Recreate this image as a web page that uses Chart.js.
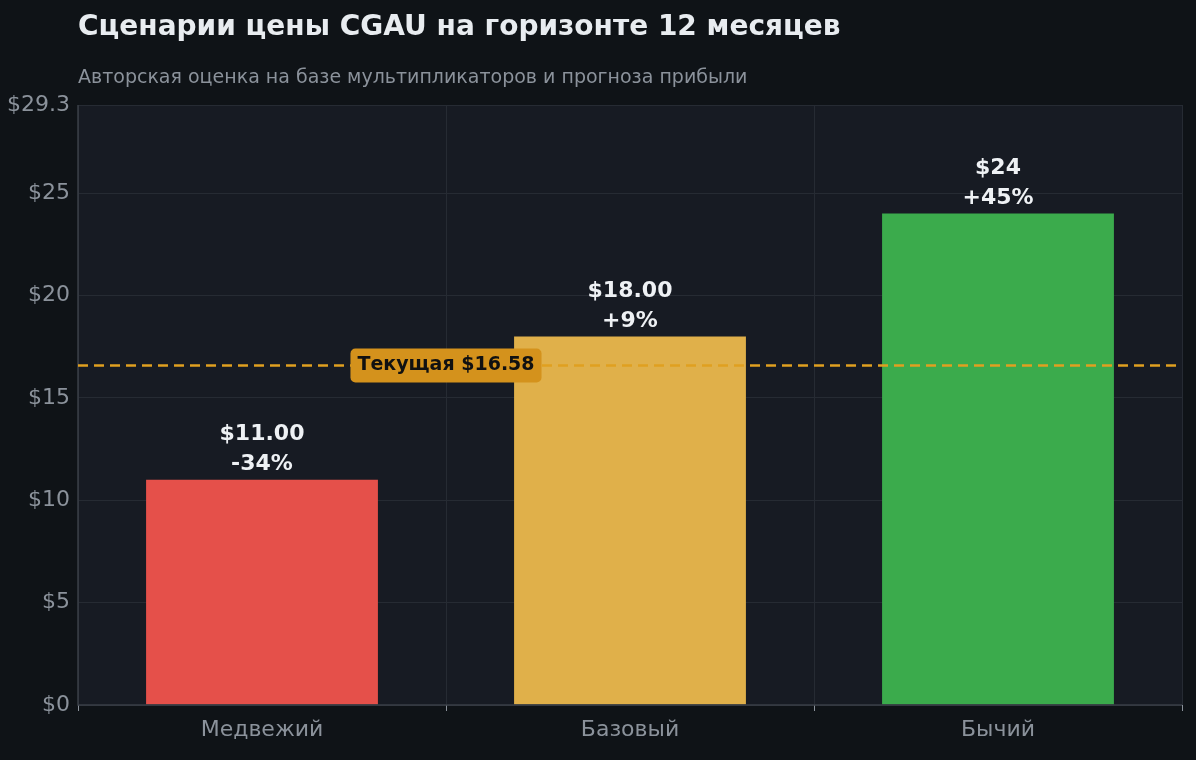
<!DOCTYPE html><html><head><meta charset="utf-8">
<script src="https://cdn.jsdelivr.net/npm/chart.js@4"></script>
<style>html,body{margin:0;background:#0f1317}#w{width:1196px;height:760px}</style></head><body><div id="w"><canvas id="c"></canvas></div>
<script>
const categories=["Медвежий","Базовый","Бычий"];
const values=[11,18,24];
const valueLabels=["$11.00","$18.00","$24"];
const changeLabels=["-34%","+9%","+45%"];
const colors=["#e5504a","#e0b04a","#3bab4c"];
const currentPrice=16.58;
const currentLabel="Текущая $16.58";
const F="DejaVu Sans";
const deco={id:'deco',
beforeDraw(c){const x=c.ctx,a=c.chartArea;x.save();x.fillStyle='#0f1317';x.fillRect(0,0,c.width,c.height);x.fillStyle='#171b23';x.fillRect(a.left,a.top,a.right-a.left,a.bottom-a.top);x.restore();},
afterDatasetsDraw(c){const x=c.ctx,a=c.chartArea,ys=c.scales.y,xs=c.scales.x;x.save();
x.fillStyle='#e8ecf0';x.font='bold 28px '+F;x.textBaseline='middle';x.textAlign='left';x.fillText('Сценарии цены CGAU на горизонте 12 месяцев',78,28);
x.fillStyle='#8b929b';x.font='19px '+F;x.fillText('Авторская оценка на базе мультипликаторов и прогноза прибыли',78,78);
x.strokeStyle='#3a3f47';x.lineWidth=1.5;x.beginPath();x.moveTo(a.left,a.top);x.lineTo(a.left,a.bottom);x.lineTo(a.right,a.bottom);x.stroke();
const m=c.getDatasetMeta(0);x.fillStyle='#eef1f4';x.font='bold 22px '+F;x.textAlign='center';
m.data.forEach((b,i)=>{x.fillText(valueLabels[i],b.x,b.y-45);x.fillText(changeLabels[i],b.x,b.y-15);});
const py=ys.getPixelForValue(currentPrice);x.strokeStyle='#e0a020';x.lineWidth=2.5;x.setLineDash([10,6]);x.beginPath();x.moveTo(a.left,py);x.lineTo(a.right,py);x.stroke();x.setLineDash([]);
const cx=xs.getPixelForValue(0.5);x.font='bold 19px '+F;const w=x.measureText(currentLabel).width+14;
x.fillStyle='#d4921c';x.beginPath();x.roundRect(cx-w/2,py-17,w,34,5);x.fill();x.fillStyle='#111';x.fillText(currentLabel,cx,py);
x.restore();}};
new Chart(document.getElementById('c'),{type:'bar',data:{labels:categories,datasets:[{data:values,backgroundColor:colors,barPercentage:0.63,categoryPercentage:1}]},
options:{responsive:true,maintainAspectRatio:false,animation:false,layout:{padding:{top:105,right:14,left:0,bottom:0}},
plugins:{legend:{display:false},tooltip:{enabled:false}},
scales:{y:{min:0,max:29.3,afterFit:s=>{s.width=78},grid:{color:'#262b33',drawTicks:false},border:{display:false},ticks:{stepSize:5,color:'#8b929b',font:{family:F,size:22},padding:8,callback:v=>'$'+v}},
x:{afterFit:s=>{s.height=55},grid:{color:'#262b33',tickColor:'#8b929b',tickLength:6},border:{display:false},ticks:{color:'#8b929b',font:{family:F,size:22},padding:6}}}},plugins:[deco]});
</script></body></html>
